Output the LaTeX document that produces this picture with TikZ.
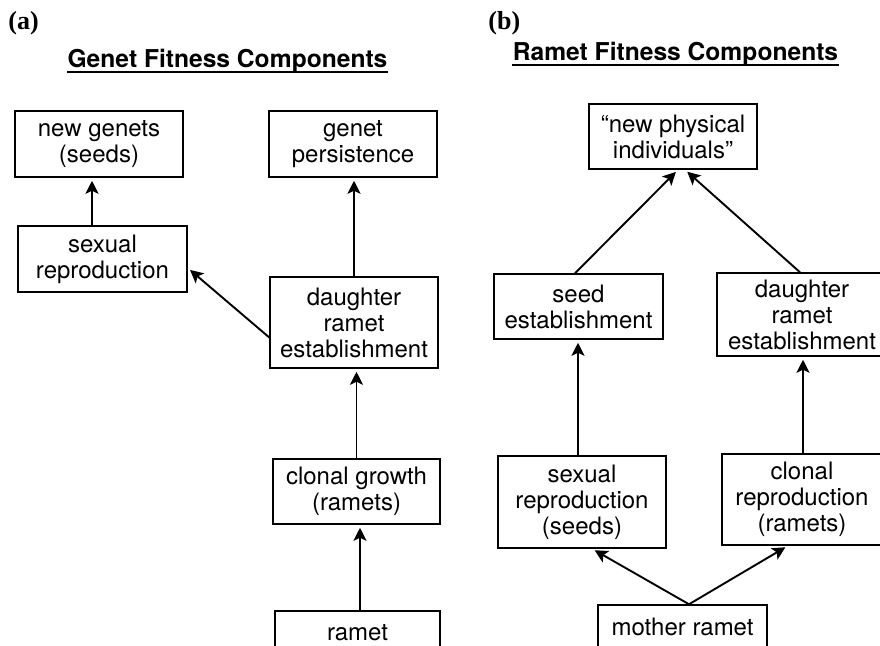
\documentclass[tikz,border=0pt]{standalone}
\usepackage{fontspec}
\setmainfont{TeX Gyre Heros}
\newfontfamily\panelfont{Liberation Serif}
\usetikzlibrary{arrows.meta}

\begin{document}
\begin{tikzpicture}[x=0.5pt, y=-0.5pt,
    >={Stealth[length=6.5pt, width=6.5pt, inset=1.5pt]},
    comp/.style={draw, line width=0.75pt, align=center, inner sep=0pt,
        font=\fontsize{12}{13}\selectfont},
    heading/.style={inner sep=0pt, font=\fontsize{12.3}{14}\selectfont\bfseries},
    panel/.style={inner sep=0pt, font=\fontsize{13}{15}\selectfont\panelfont\bfseries},
    link/.style={->, line width=0.95pt, shorten >=1.5pt}]
    \useasboundingbox (0,0) rectangle (880,645);
    % panel (a): genet
    \node [panel, anchor=base west] (alabel) at (8, 29) {(a)};
    \node [heading, anchor=base] (gtitle) at (227.5, 67) {Genet Fitness Components};
    \draw [line width=1.3pt] ([yshift=-2.4pt]gtitle.base west) -- ([yshift=-2.4pt]gtitle.base east);
    \node [comp, minimum width=84pt, minimum height=33pt] (gnew) at (99, 144) {new genets\\(seeds)};
    \node [comp, minimum width=84pt, minimum height=33pt] (gpers) at (353, 144) {genet\\persistence};
    \node [comp, minimum width=84.5pt, minimum height=33pt] (gsex) at (102.5, 259) {sexual\\reproduction};
    \node [comp, minimum width=84pt, minimum height=45.5pt] (gdau) at (354, 322.5) {daughter\\ramet\\establishment};
    \node [comp, minimum width=83.5pt, minimum height=32.5pt] (gclon) at (356.5, 491.5) {clonal growth\\(ramets)};
    \node [comp, minimum width=82.5pt, minimum height=22pt] (gram) at (357.5, 633) {ramet}; % cut at the bottom
    \draw [link] ([xshift=-5.25pt]gsex.north) to ([xshift=-3.5pt]gnew.south);
    \draw [link] (gdau.north) to (gdau.north |- gpers.south);
    \draw [link] (gdau.190) to (gsex.354);
    \draw [link] (gclon.north) to (gclon.north |- gdau.south);
    \draw [link] ([xshift=1.25pt]gram.north) to ([xshift=1.25pt]gram.north |- gclon.south);
    % panel (b): ramet
    \node [panel, anchor=base west] (blabel) at (488, 29) {(b)};
    \node [heading, anchor=base] (rtitle) at (675.5, 60) {Ramet Fitness Components};
    \draw [line width=1.3pt] ([yshift=-2.4pt]rtitle.base west) -- ([yshift=-2.4pt]rtitle.base east);
    \node [comp, minimum width=84pt, minimum height=32.5pt] (bnew) at (673, 136.5) {“new physical\\individuals”};
    \node [comp, minimum width=84.5pt, minimum height=32.5pt] (bseed) at (578.5, 306.5) {seed\\establishment};
    \node [comp, minimum width=85pt, minimum height=41.5pt] (bdau) at (802, 314.5) {daughter\\ramet\\establishment};
    \node [comp, minimum width=84pt, minimum height=46pt] (bsex) at (582, 502) {sexual\\reproduction\\(seeds)};
    \node [comp, minimum width=80pt, minimum height=45.5pt] (bclon) at (802, 499.5) {clonal\\reproduction\\(ramets)};
    \node [comp, minimum width=84.5pt, minimum height=22pt] (bmoth) at (682.5, 627) {mother ramet}; % cut at the bottom
    \draw [link] ([xshift=-1.75pt]bseed.north) to ([xshift=2.5pt]bnew.south);
    \draw [link] ([xshift=-1pt]bdau.north) to ([xshift=6pt]bnew.south);
    \draw [link] ([xshift=-2pt]bsex.north) to ([xshift=-2pt]bsex.north |- bseed.south);
    \draw [link] ([xshift=0.5pt]bclon.north) to ([xshift=0.5pt]bclon.north |- bdau.south);
    \draw [link] ([xshift=3.25pt]bmoth.north) to ([xshift=5pt]bsex.south);
    \draw [link] ([xshift=3.25pt]bmoth.north) to ([xshift=-7pt]bclon.south);
\end{tikzpicture}
\end{document}
